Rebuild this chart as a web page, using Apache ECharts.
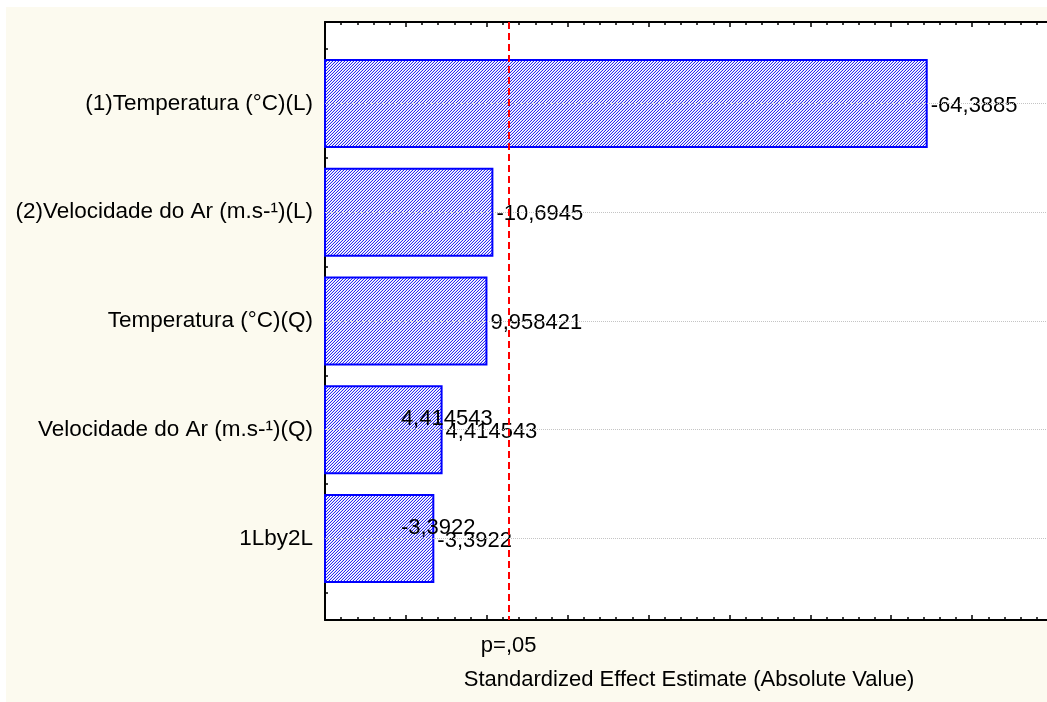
<!DOCTYPE html>
<html>
<head>
<meta charset="utf-8">
<script src="https://cdn.jsdelivr.net/npm/echarts@6/dist/echarts.min.js"></script>
<style>
  html, body { margin: 0; padding: 0; background: #ffffff; width: 1047px; height: 702px; overflow: hidden; }
  #chart { position: absolute; left: 6px; top: 7px; width: 1041px; height: 695px; }
</style>
</head>
<body>
<div id="chart"></div>
<script>
// ---- data ----
const categories = [
  '(1)Temperatura (°C)(L)',
  '(2)Velocidade do Ar (m.s-¹)(L)',
  'Temperatura (°C)(Q)',
  'Velocidade do Ar (m.s-¹)(Q)',
  '1Lby2L'
];
const effects = [-64.3885, -10.6945, 9.958421, 4.414543, -3.3922];
const pCritical = 12.706;          // t critical value for p = .05
const pLabel = 'p=,05';
const strayLabelRows = [3, 4];     // rows whose value label is printed twice
const xTitle = 'Standardized Effect Estimate (Absolute Value)';
const xMin = -10, xMax = 80, xInterval = 10;

// ---- helpers ----
const FONT = "'Liberation Sans', Arial, sans-serif";
const fmt = v => String(v).replace('.', ',');
const rowPos = categories.map((c, i) => i + 1);
const barData = effects.map((v, i) => [Math.abs(v), rowPos[i], v]);

function makePattern() {
  const c = document.createElement('canvas');
  c.width = 3; c.height = 3;
  const ctx = c.getContext('2d');
  ctx.fillStyle = '#ffffff';
  ctx.fillRect(0, 0, 3, 3);
  ctx.fillStyle = '#2a2af0';
  for (let x = 0; x < 3; x++) for (let y = 0; y < 3; y++) {
    if ((x + y) % 3 === 2) ctx.fillRect(x, y, 1, 1);
  }
  ctx.fillStyle = 'rgba(120,120,250,0.3)';
  for (let x = 0; x < 3; x++) for (let y = 0; y < 3; y++) {
    if ((x + y) % 3 === 1) ctx.fillRect(x, y, 1, 1);
  }
  return c;
}
const pattern = { image: makePattern(), repeat: 'repeat' };

const chart = echarts.init(document.getElementById('chart'), null, { renderer: 'canvas' });

const textStyleBase = { color: '#000', fontSize: 22, fontFamily: FONT };

const option = {
  animation: false,
  backgroundColor: '#fcfaef',
  grid: {
    left: 319, top: 15, width: 728, height: 598,
    outerBoundsMode: 'none', containLabel: false,
    show: true, backgroundColor: '#ffffff', borderWidth: 0
  },
  xAxis: [
    {
      type: 'value', position: 'bottom', min: xMin, max: xMax, interval: xInterval,
      axisLine: { show: true, onZero: false, lineStyle: { color: '#000', width: 2 } },
      axisTick: { show: true, inside: true, length: 5, lineStyle: { color: '#000', width: 1.5 } },
      minorTick: { show: true, splitNumber: 5, length: 3, lineStyle: { color: '#000', width: 1.5 } },
      splitLine: { show: false },
      axisLabel: {
        show: true, customValues: [pCritical], formatter: () => pLabel,
        margin: 15, ...textStyleBase
      },
      name: xTitle, nameLocation: 'middle', nameGap: 49,
      nameTextStyle: { ...textStyleBase, verticalAlign: 'top' }
    },
    {
      type: 'value', position: 'top', min: xMin, max: xMax, interval: xInterval,
      axisLine: { show: true, onZero: false, lineStyle: { color: '#000', width: 2 } },
      axisTick: { show: true, inside: true, length: 5, lineStyle: { color: '#000', width: 1.5 } },
      minorTick: { show: true, splitNumber: 5, length: 3, lineStyle: { color: '#000', width: 1.5 } },
      splitLine: { show: false },
      axisLabel: { show: false }
    }
  ],
  yAxis: [
    {
      type: 'value', position: 'left', inverse: true, min: 0.25, max: 5.75, interval: 0.25,
      axisLine: { show: true, onZero: false, lineStyle: { color: '#000', width: 2 } },
      axisTick: { show: true, inside: true, length: 3, lineStyle: { color: '#000', width: 1.5 } },
      splitLine: { show: false },
      axisLabel: {
        show: true, customValues: rowPos,
        formatter: v => categories[Math.round(v) - 1] || '',
        margin: 12, padding: [4, 0, 0, 0], ...textStyleBase, fontSize: 22.5
      }
    },
    {
      type: 'value', position: 'left', inverse: true, min: 0.25, max: 5.75, interval: 0.25,
      axisLine: { show: false },
      axisTick: { show: true, inside: true, length: 6, customValues: rowPos, lineStyle: { color: '#000', width: 1.5 } },
      splitLine: { show: false },
      axisLabel: { show: false }
    }
  ],
  series: [
    {
      // dotted horizontal guide lines at each effect row
      type: 'line', data: [], z: 1, silent: true,
      markLine: {
        silent: true, symbol: ['none', 'none'], label: { show: false },
        lineStyle: { color: '#c4c4c4', type: 'dotted', width: 1 },
        data: rowPos.map(p => ({ yAxis: p }))
      }
    },
    {
      type: 'custom', z: 3, coordinateSystem: 'cartesian2d',
      xAxisIndex: 0, yAxisIndex: 0,
      data: barData,
      encode: { x: 0, y: 1 },
      renderItem: function (params, api) {
        const v = api.value(0);
        const row = api.value(1);
        const signed = api.value(2);
        const p0 = api.coord([xMin, row - 0.4]);
        const p1 = api.coord([v, row + 0.4]);
        const mid = api.coord([v, row]);
        const y0 = Math.min(p0[1], p1[1]);
        const h = Math.abs(p1[1] - p0[1]);
        const children = [
          {
            type: 'rect',
            shape: { x: p0[0], y: y0, width: p1[0] - p0[0], height: h },
            style: { fill: pattern, stroke: '#0000ff', lineWidth: 2 }
          },
          {
            type: 'text', z2: 10,
            x: mid[0] + 4, y: mid[1] + 2,
            style: {
              text: fmt(signed), fill: '#000', font: '22px ' + FONT,
              textAlign: 'left', textVerticalAlign: 'middle',
              align: 'left', verticalAlign: 'middle'
            }
          }
        ];
        if (strayLabelRows.indexOf(params.dataIndex) >= 0) {
          const z0 = api.coord([0, row]);
          children.push({
            type: 'text', z2: 10,
            x: z0[0] - 5, y: z0[1] - 11,
            style: {
              text: fmt(signed), fill: '#000', font: '22px ' + FONT,
              textAlign: 'left', textVerticalAlign: 'middle',
              align: 'left', verticalAlign: 'middle'
            }
          });
        }
        return { type: 'group', children: children };
      },
      markLine: {
        silent: true, symbol: ['none', 'none'], label: { show: false }, z: 5,
        lineStyle: { color: '#ff0000', type: [7, 4], width: 2 },
        data: [{ xAxis: pCritical }]
      }
    }
  ]
};
chart.setOption(option);
</script>
</body>
</html>
